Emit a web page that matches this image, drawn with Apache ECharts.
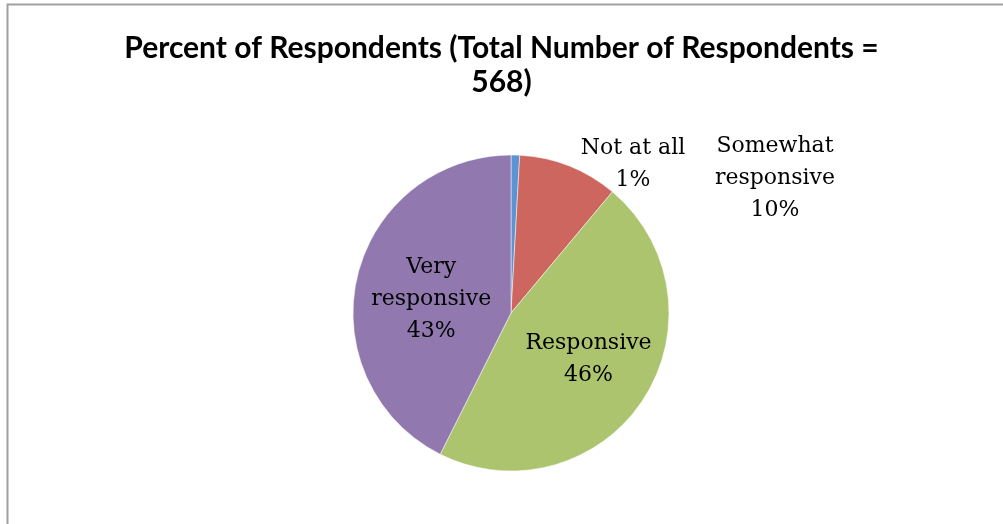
<!DOCTYPE html>
<html>
<head>
    <meta charset="utf-8" />
    <title>ECharts</title>
    <script src="https://cdn.jsdelivr.net/npm/echarts@6/dist/echarts.min.js"></script>
    <style>
        html, body { margin: 0; padding: 0; background: #fff; }
    </style>
</head>
<body>
<div id="main" style="width: 1003px;height:524px;"></div>

<script type="text/javascript">
    // data (568 respondents)
    var categories = ['Not at all', 'Somewhat\nresponsive', 'Responsive', 'Very\nresponsive'];
    var counts = [5, 58, 263, 242];
    var colors = ['#5b93d3', '#cd665e', '#acc46e', '#9179b0'];
    var titleText = 'Percent of Respondents (Total Number of Respondents =\n568)';

    var myChart = echarts.init(document.getElementById('main'));

    // per slice label placement (outside ones get fixed spots like the original)
    var labelCfg = [
        { position: 'outside' },
        { position: 'outside' },
        { position: 'inside', offset: [9, 1] },
        { position: 'inside', offset: [0, 5] }
    ];
    var outsideSpots = { 0: [633, 164], 1: [775, 178] };

    var pieData = categories.map(function (name, i) {
        return {
            name: name,
            value: counts[i],
            itemStyle: { color: colors[i] },
            label: labelCfg[i]
        };
    });

    var option = {
        animation: false,
        title: {
            text: titleText,
            left: 'center',
            top: 26,
            textStyle: {
                fontFamily: 'Lato',
                fontWeight: 'bold',
                fontSize: 30,
                lineHeight: 34,
                color: '#000'
            }
        },
        graphic: [{
            type: 'rect',
            shape: { x: 7.5, y: 4.5, width: 1100, height: 600 },
            style: { fill: 'none', stroke: '#a0a0a0', lineWidth: 2 }
        }],
        series: [{
            type: 'pie',
            center: [511, 313],
            radius: 158,
            startAngle: 90,
            clockwise: true,
            percentPrecision: 0,
            itemStyle: { borderColor: '#fff', borderWidth: 0.5 },
            label: {
                formatter: '{b}\n{d}%',
                fontFamily: 'DejaVu Serif',
                fontSize: 22,
                lineHeight: 32,
                color: '#000',
                align: 'center'
            },
            labelLine: { show: false },
            labelLayout: function (params) {
                var spot = outsideSpots[params.dataIndex];
                if (!spot) return {};
                return { x: spot[0], y: spot[1], align: 'center', verticalAlign: 'middle' };
            },
            emphasis: { disabled: true },
            data: pieData
        }]
    };

    myChart.setOption(option);
</script>
</body>
</html>
